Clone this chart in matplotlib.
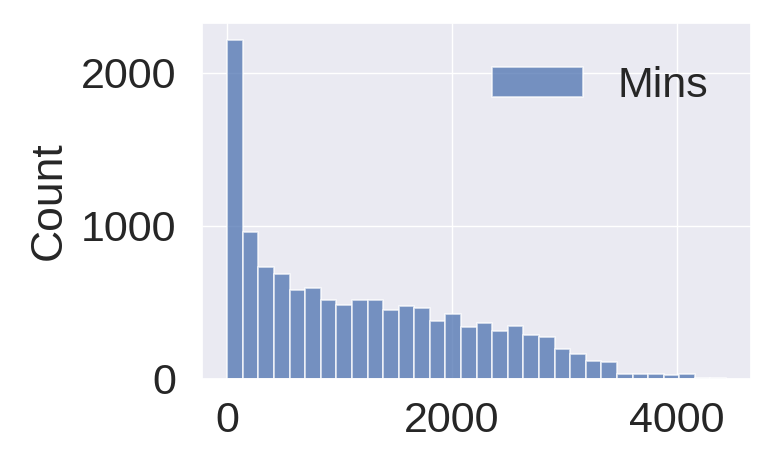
import numpy as np
import matplotlib
matplotlib.use("Agg")
import matplotlib.pyplot as plt
import seaborn as sns

# histogram of "Mins": 32 bins from 0 to ~4440, counts
bin_start = 0
bin_end = 4440
counts = [2216, 959, 732, 688, 583, 594, 518, 485, 518, 518,
          452, 479, 466, 378, 422, 337, 365, 315, 345, 284,
          273, 195, 164, 120, 109, 35, 35, 35, 24, 35,
          8, 5]
series_label = "Mins"
x_ticks = [0, 2000, 4000]
y_ticks = [0, 1000, 2000]

sns.set_theme(style="darkgrid")
plt.rcParams["font.family"] = ["Liberation Sans", "DejaVu Sans"]

edges = np.linspace(bin_start, bin_end, len(counts) + 1)

fig = plt.figure(figsize=(7.75, 4.49), dpi=100)
ax = fig.add_axes([0.261, 0.156, 0.708, 0.793])

ax.hist(edges[:-1], bins=edges, weights=counts, color="#4C72B0", alpha=0.75,
        edgecolor="white", linewidth=1.2, label=series_label)

ax.set_xticks(x_ticks)
ax.set_yticks(y_ticks)
ax.set_ylim(0, max(counts) * 1.05)
ax.tick_params(axis="both", labelsize=31, length=0)
ax.tick_params(axis="y", pad=19)
ax.tick_params(axis="x", pad=16)
ax.set_ylabel("Count", fontsize=32, labelpad=8)
ax.legend(loc="upper right", fontsize=31, frameon=False,
          handlelength=2.1, handletextpad=0.8, borderaxespad=0.6)

fig.savefig("out.png", dpi=100)
